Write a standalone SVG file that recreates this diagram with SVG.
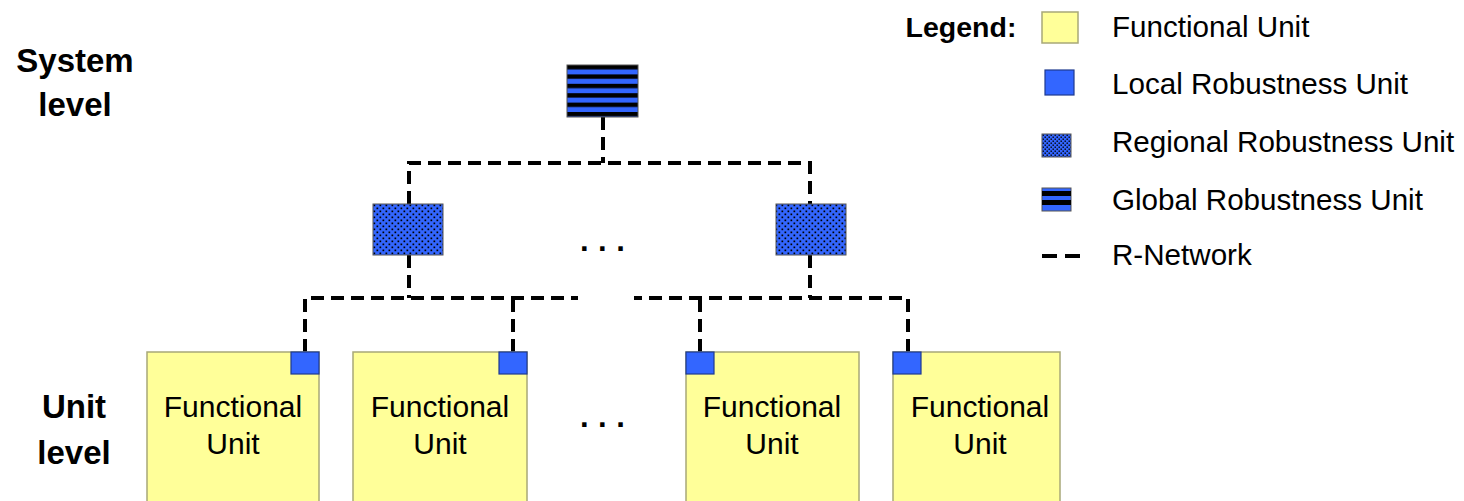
<svg xmlns="http://www.w3.org/2000/svg" width="1464" height="501" viewBox="0 0 1464 501">
<style>
.lbl{font-family:"Liberation Sans",Arial,sans-serif;font-weight:bold;font-size:33px;fill:#000;text-anchor:middle}
.txt{font-family:"Liberation Sans",Arial,sans-serif;font-size:29.6px;fill:#000}
.fu{fill:#ffff99;stroke:#a8a878;stroke-width:1.5}
.lru{fill:#3366ff;stroke:#1f3a8f;stroke-width:1.2}
.rru{fill:url(#dots);stroke:#555;stroke-width:1}
.gru{fill:url(#stripes);stroke:#555;stroke-width:1}
.net{fill:none;stroke:#000;stroke-width:4;stroke-dasharray:13 7}
.dots{font-family:"Liberation Sans",Arial,sans-serif;font-size:31px;font-weight:bold;letter-spacing:9.5px}
</style>
<defs>
<pattern id="dots" patternUnits="userSpaceOnUse" x="373" y="204" width="6" height="6">
<rect width="6" height="6" fill="#3366ff"/>
<rect x="0.5" y="0.5" width="1.7" height="1.7" fill="#000"/>
<rect x="3.5" y="3.5" width="1.7" height="1.7" fill="#000"/>
</pattern>
<pattern id="stripes" patternUnits="userSpaceOnUse" x="0" y="65" width="10" height="9.4">
<rect width="10" height="9.4" fill="#3366ff"/>
<rect width="10" height="4.4" fill="#000"/>
</pattern>
<pattern id="ldots" patternUnits="userSpaceOnUse" x="1042" y="134" width="4" height="4">
<rect width="4" height="4" fill="#3366ff"/>
<rect x="0.5" y="0.5" width="1.4" height="1.4" fill="#000"/>
<rect x="2.5" y="2.5" width="1.4" height="1.4" fill="#000"/>
</pattern>
</defs>

<g id="labels">
<text class="lbl" x="75" y="72">System</text>
<text class="lbl" x="75" y="116">level</text>
<text class="lbl" x="74" y="418">Unit</text>
<text class="lbl" x="74" y="464">level</text>
</g>

<g id="connectors">
<path class="net" d="M603 117 V163"/>
<path class="net" d="M409 204 V163 H810 V204"/>
<path class="net" d="M409 255 V298"/>
<path class="net" d="M305 352 V298 H578"/>
<path class="net" d="M513 352 V298"/>
<path class="net" d="M810 255 V298"/>
<path class="net" d="M908 352 V298 H634"/>
<path class="net" d="M700 352 V298"/>
</g>

<g id="global-unit"><rect class="gru" x="567" y="65" width="71" height="52"/></g>
<g id="regional-unit-1"><rect class="rru" x="373" y="204" width="70" height="51"/></g>
<g id="regional-unit-2"><rect class="rru" x="776" y="204" width="70" height="51"/></g>
<g id="ellipsis-top"><text class="dots" x="580" y="251">...</text></g>

<g id="fu-1">
<rect class="fu" x="147" y="352" width="172" height="160"/>
<rect class="lru" x="291" y="352" width="28" height="22"/>
<text class="txt" x="233" y="417" text-anchor="middle" style="font-size:30px">Functional</text>
<text class="txt" x="233" y="454" text-anchor="middle" style="font-size:30px">Unit</text>
</g>
<g id="fu-2">
<rect class="fu" x="353" y="352" width="174" height="160"/>
<rect class="lru" x="499" y="352" width="28" height="22"/>
<text class="txt" x="440" y="417" text-anchor="middle" style="font-size:30px">Functional</text>
<text class="txt" x="440" y="454" text-anchor="middle" style="font-size:30px">Unit</text>
</g>
<g id="ellipsis-bottom"><text class="dots" x="580" y="427">...</text></g>
<g id="fu-3">
<rect class="fu" x="686" y="352" width="173" height="160"/>
<rect class="lru" x="686" y="352" width="28" height="22"/>
<text class="txt" x="772" y="417" text-anchor="middle" style="font-size:30px">Functional</text>
<text class="txt" x="772" y="454" text-anchor="middle" style="font-size:30px">Unit</text>
</g>
<g id="fu-4">
<rect class="fu" x="893" y="352" width="167" height="160"/>
<rect class="lru" x="893" y="352" width="28" height="22"/>
<text class="txt" x="980" y="417" text-anchor="middle" style="font-size:30px">Functional</text>
<text class="txt" x="980" y="454" text-anchor="middle" style="font-size:30px">Unit</text>
</g>

<g id="legend">
<text class="lbl" x="961" y="37" style="font-size:28.5px">Legend:</text>
<rect class="fu" x="1042" y="12" width="36" height="31"/>
<text class="txt" x="1112" y="37">Functional Unit</text>
<rect class="lru" x="1045" y="70" width="29" height="25"/>
<text class="txt" x="1112" y="94">Local Robustness Unit</text>
<rect x="1042" y="134" width="29" height="23" fill="url(#ldots)" stroke="#555" stroke-width="1"/>
<text class="txt" x="1112" y="152">Regional Robustness Unit</text>
<g>
<rect x="1042" y="188" width="29" height="23" fill="#3366ff" stroke="#555" stroke-width="1"/>
<rect x="1042" y="191" width="29" height="5" fill="#000"/>
<rect x="1042" y="200" width="29" height="5" fill="#000"/>
</g>
<text class="txt" x="1112" y="210">Global Robustness Unit</text>
<path d="M1042 256 H1080" fill="none" stroke="#000" stroke-width="4" stroke-dasharray="15 8"/>
<text class="txt" x="1112" y="265">R-Network</text>
</g>
</svg>
